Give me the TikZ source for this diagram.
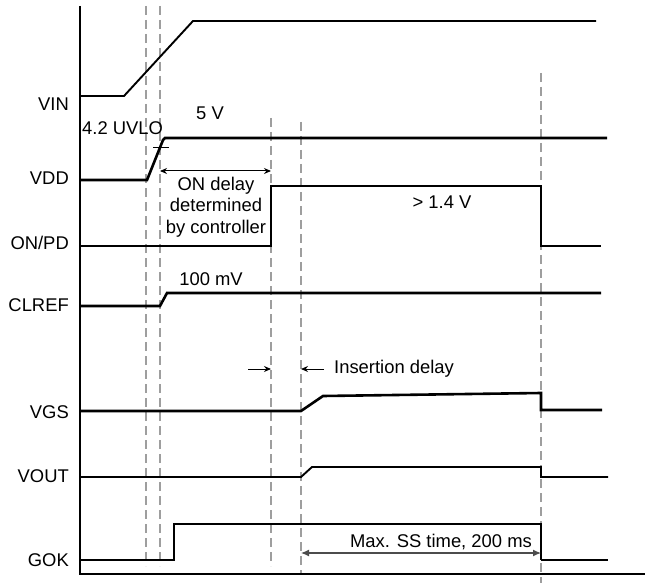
\documentclass[tikz,border=0pt]{standalone}
\usepackage{fontspec}
\setmainfont{Liberation Sans}
\usetikzlibrary{arrows.meta}
\begin{document}
\begin{tikzpicture}[x=1pt,y=-1pt,
  every node/.style={inner sep=0pt,font=\fontsize{18.4}{22}\selectfont},
  sig/.style={line width=2.6pt,line join=miter},
  sigthin/.style={line width=1.9pt,line join=miter},
  axisline/.style={line width=1.4pt},
  guide/.style={draw=black!38,line width=1.8pt,dash pattern=on 9pt off 5pt},
  dimarrow/.style={line width=1pt,{Stealth[length=7pt,width=6pt]}-{Stealth[length=7pt,width=6pt]}},
  onearrow/.style={line width=1pt,-{Stealth[length=7pt,width=6pt]}},
  ssarrow/.style={line width=1.2pt,draw=black!70,{Latex[length=8pt,width=7pt]}-{Latex[length=8pt,width=7pt]}},
  lbl/.style={anchor=east}]
\useasboundingbox (0,0) rectangle (648,583);
% guide lines
\draw[guide] (146,6) -- (146,566);
\draw[guide] (160,6) -- (160,566);
\draw[guide] (271,118) -- (271,566);
\draw[guide] (301,122) -- (301,574);
\draw[guide] (541,73) -- (541,583);
% axes
\draw[axisline] (80,6) -- (80,575);
\draw[axisline] (79,574) -- (645,574);
% labels
\node[lbl] (lvin) at (69,104) {VIN};
\node[lbl] (lvdd) at (69,178) {VDD};
\node[lbl] (lon) at (69,243) {ON/PD};
\node[lbl] (lclref) at (69,305) {CLREF};
\node[lbl] (lvgs) at (69,412) {VGS};
\node[lbl] (lvout) at (69,476) {VOUT};
\node[lbl] (lgok) at (69,560) {GOK};
% VIN
\draw[sigthin] (80,96) -- (124,96) -- (193,21) -- (596,21);
% VDD
\draw[sig] (80,180) -- (147,180) -- (163,140) -- (165,138) -- (607,138);
\draw[line width=1pt] (153,148) -- (169,148);
\node[anchor=west] (uvlo) at (82,128) {4.2 UVLO};
\node (fivev) at (210,113) {5 V};
% ON delay
\draw[dimarrow] (160,171) -- (271,171);
\node[align=center,font=\fontsize{18.4}{21.5}\selectfont] (ondelay) at (216,207) {ON delay\\determined\\by controller};
% ON/PD
\draw[sigthin] (80,246) -- (271,246) -- (271,186) -- (541,186) -- (541,246) -- (601,246);
\node (gt) at (442,202) {> 1.4 V};
% CLREF
\draw[sig] (80,306) -- (160,306) -- (167,293) -- (601,293);
\node (mv) at (211,279) {100 mV};
% insertion delay
\draw[onearrow] (248,369) -- (271,369);
\draw[onearrow] (324,369) -- (301,369);
\node[anchor=west] (ins) at (334,369) {Insertion delay};
% VGS
\draw[sig] (80,411) -- (301,411) -- (323,396) -- (541,393) -- (541,410) -- (602,410);
% VOUT
\draw[sigthin] (80,477) -- (301,477) -- (312,467) -- (541,467) -- (541,477) -- (608,477);
% GOK
\draw[sig] (80,560) -- (174,560) -- (174,524) -- (541,524) -- (541,560);
\draw[sigthin] (541,560) -- (608,560);
\draw[ssarrow] (301,553) -- (541,553);
\node[anchor=east] (ss) at (532,542) {Max. SS time, 200 ms};
\end{tikzpicture}
\end{document}
